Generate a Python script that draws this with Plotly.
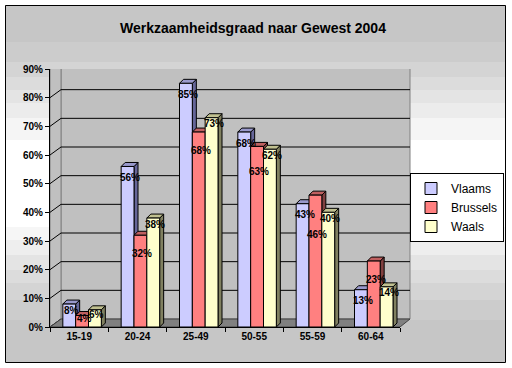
import plotly.graph_objects as go

# ---- data ----
categories = ["15-19", "20-24", "25-49", "50-55", "55-59", "60-64"]
vlaams = [0.08, 0.56, 0.85, 0.68, 0.43, 0.13]
brussels = [0.04, 0.32, 0.68, 0.63, 0.46, 0.23]
waals = [0.06, 0.38, 0.73, 0.62, 0.40, 0.14]
series_names = ["Vlaams", "Brussels", "Waals"]
y_ticks = [0.0, 0.1, 0.2, 0.3, 0.4, 0.5, 0.6, 0.7, 0.8, 0.9]
title_text = "Werkzaamheidsgraad naar Gewest 2004"

# ---- geometry / style ----
W, H = 512, 368
L, R, T, B = 50, 112, 69, 41
PW, PH = W - L - R, H - T - B
YMAX = 0.9
FONT = "Arial, Liberation Sans, sans-serif"


def px_x(px):
    return (px - L) / PW


def px_y(py):
    return (H - B - py) / PH


def dy_data(pix):
    return pix * YMAX / PH


def dx_cat(pix):
    return pix * len(categories) / PW


front_colors = ["#CCCCFF", "#FF8080", "#FFFFCC"]
side_colors = ["#666699", "#804040", "#808060"]
top_colors = ["#9999CC", "#C06060", "#C0C090"]
bar_width = 0.22
bar_offsets = [-0.28, -0.06, 0.16]
label_shift = [11, 18, 6]
WALL_D = dy_data(8)
BAR_DX, BAR_DY = dx_cat(4), dy_data(4)

bands = [
    (5, 42, "#C6C6C6"), (42, 62, "#CCCCCC"), (62, 77, "#D4D4D4"), (77, 90, "#DCDCDC"),
    (90, 103, "#E4E4E4"), (103, 118, "#ECECEC"), (118, 140, "#F5F5F5"), (140, 227, "#FFFFFF"),
    (227, 240, "#F6F6F6"), (240, 255, "#EEEEEE"), (255, 270, "#E4E4E4"), (270, 283, "#DCDCDC"),
    (283, 300, "#D4D4D4"), (300, 320, "#CCCCCC"), (320, 362, "#C6C6C6"),
]

series_values = [vlaams, brussels, waals]

fig = go.Figure()
for name, vals, col, off in zip(series_names, series_values, front_colors, bar_offsets):
    fig.add_trace(go.Bar(
        x=categories, y=vals, name=name, width=bar_width, offset=off,
        marker=dict(color=col, line=dict(color="black", width=1)),
        hoverinfo="x+y+name",
    ))

shapes = []
# background gradient bands
for y0, y1, c in bands:
    shapes.append(dict(type="rect", xref="paper", yref="paper",
                       x0=px_x(5), x1=px_x(506), y0=px_y(y1), y1=px_y(y0),
                       fillcolor=c, line=dict(width=0), layer="below"))
# outer border
shapes.append(dict(type="rect", xref="paper", yref="paper",
                   x0=px_x(5.5), x1=px_x(505.5), y0=px_y(362.5), y1=px_y(5.5),
                   line=dict(color="black", width=1), fillcolor="rgba(0,0,0,0)", layer="below"))
# back wall
shapes.append(dict(type="rect", xref="paper", yref="y",
                   x0=px_x(61), x1=px_x(410), y0=WALL_D, y1=YMAX + WALL_D,
                   fillcolor="#C0C0C0", line=dict(color="#808080", width=1), layer="below"))
# left wall
shapes.append(dict(type="path", xref="paper", yref="y",
                   path=f"M {px_x(50)},0 L {px_x(61)},{WALL_D} L {px_x(61)},{YMAX + WALL_D} L {px_x(50)},{YMAX} Z",
                   fillcolor="#C0C0C0", line=dict(color="#808080", width=1), layer="below"))
# gridlines on back wall + diagonals on left wall
for t in y_ticks:
    col = "#808080" if t >= YMAX - 1e-9 else "black"
    if 0 < t < YMAX - 1e-9:
        shapes.append(dict(type="line", xref="paper", yref="y",
                           x0=px_x(61), x1=px_x(410), y0=t + WALL_D, y1=t + WALL_D,
                           line=dict(color="black", width=1), layer="below"))
    shapes.append(dict(type="line", xref="paper", yref="y",
                       x0=px_x(50), x1=px_x(61), y0=t, y1=t + WALL_D,
                       line=dict(color=col, width=1), layer="below"))
# floor
shapes.append(dict(type="path", xref="paper", yref="y",
                   path=f"M {px_x(50)},0 L {px_x(400)},0 L {px_x(410)},{WALL_D} L {px_x(61)},{WALL_D} Z",
                   fillcolor="#808080", line=dict(color="#404040", width=1), layer="below"))
# 3D faces of bars
for j, vals in enumerate(series_values):
    for i, v in enumerate(vals):
        x0 = i + bar_offsets[j]
        x1 = x0 + bar_width
        shapes.append(dict(type="path", xref="x", yref="y", layer="below",
                           path=f"M {x1},0 L {x1 + BAR_DX},{BAR_DY} L {x1 + BAR_DX},{v + BAR_DY} L {x1},{v} Z",
                           fillcolor=side_colors[j], line=dict(color="black", width=1)))
        shapes.append(dict(type="path", xref="x", yref="y", layer="below",
                           path=f"M {x0},{v} L {x0 + BAR_DX},{v + BAR_DY} L {x1 + BAR_DX},{v + BAR_DY} L {x1},{v} Z",
                           fillcolor=top_colors[j], line=dict(color="black", width=1)))

# data labels: pixel drop below each bar top (middle series pushed down if it collides)
annotations = []
for i in range(len(categories)):
    drops = []
    tops = []
    for j, vals in enumerate(series_values):
        bar_px = vals[i] / YMAX * PH
        drops.append(min(label_shift[j], 0.3 * bar_px))
        tops.append(bar_px)
    label_y = [tops[j] - drops[j] for j in range(3)]  # label centre height in px above axis
    if bar_px > 60:
        for k in (0, 2):
            if abs(label_y[1] - label_y[k]) < 12:
                new_y = min(label_y[0], label_y[2]) - 16
                drops[1] = tops[1] - new_y
                break
    for j, vals in enumerate(series_values):
        v = vals[i]
        annotations.append(dict(
            x=i + bar_offsets[j] + bar_width / 2, y=v, xref="x", yref="y",
            text=f"{round(v * 100)}%", showarrow=False, xshift=2, yshift=-drops[j],
            font=dict(family=FONT, size=10, color="black", weight="bold"),
        ))

fig.update_layout(
    width=W, height=H,
    margin=dict(l=L, r=R, t=T, b=B, autoexpand=False),
    paper_bgcolor="white", plot_bgcolor="rgba(0,0,0,0)",
    barmode="overlay",
    title=dict(text=title_text, x=253 / W, xref="container", xanchor="center",
               y=1 - 28 / H, yref="container", yanchor="middle",
               font=dict(family=FONT, size=14, color="black", weight="bold")),
    xaxis=dict(type="category", categoryorder="array", categoryarray=categories,
               range=[-0.5, len(categories) - 0.5],
               showline=True, linecolor="black", linewidth=1,
               ticks="outside", tickson="boundaries", ticklen=4, tickcolor="black",
               showgrid=False, zeroline=False,
               tickfont=dict(family=FONT, size=10, color="black", weight="bold")),
    yaxis=dict(range=[0, YMAX], tickvals=y_ticks, tickformat=".0%",
               showline=True, linecolor="black", linewidth=1,
               ticks="outside", ticklen=4, tickcolor="black",
               showgrid=False, zeroline=False,
               tickfont=dict(family=FONT, size=10, color="black", weight="bold")),
    legend=dict(x=px_x(504), y=px_y(173), xanchor="right", yanchor="top",
                bgcolor="white", bordercolor="black", borderwidth=1,
                font=dict(family=FONT, size=12, color="black")),
    shapes=shapes, annotations=annotations,
    showlegend=True,
)

fig.write_html("out.html", config={"displayModeBar": False},
               post_script="document.body.style.margin='0';document.body.style.overflow='hidden';")
